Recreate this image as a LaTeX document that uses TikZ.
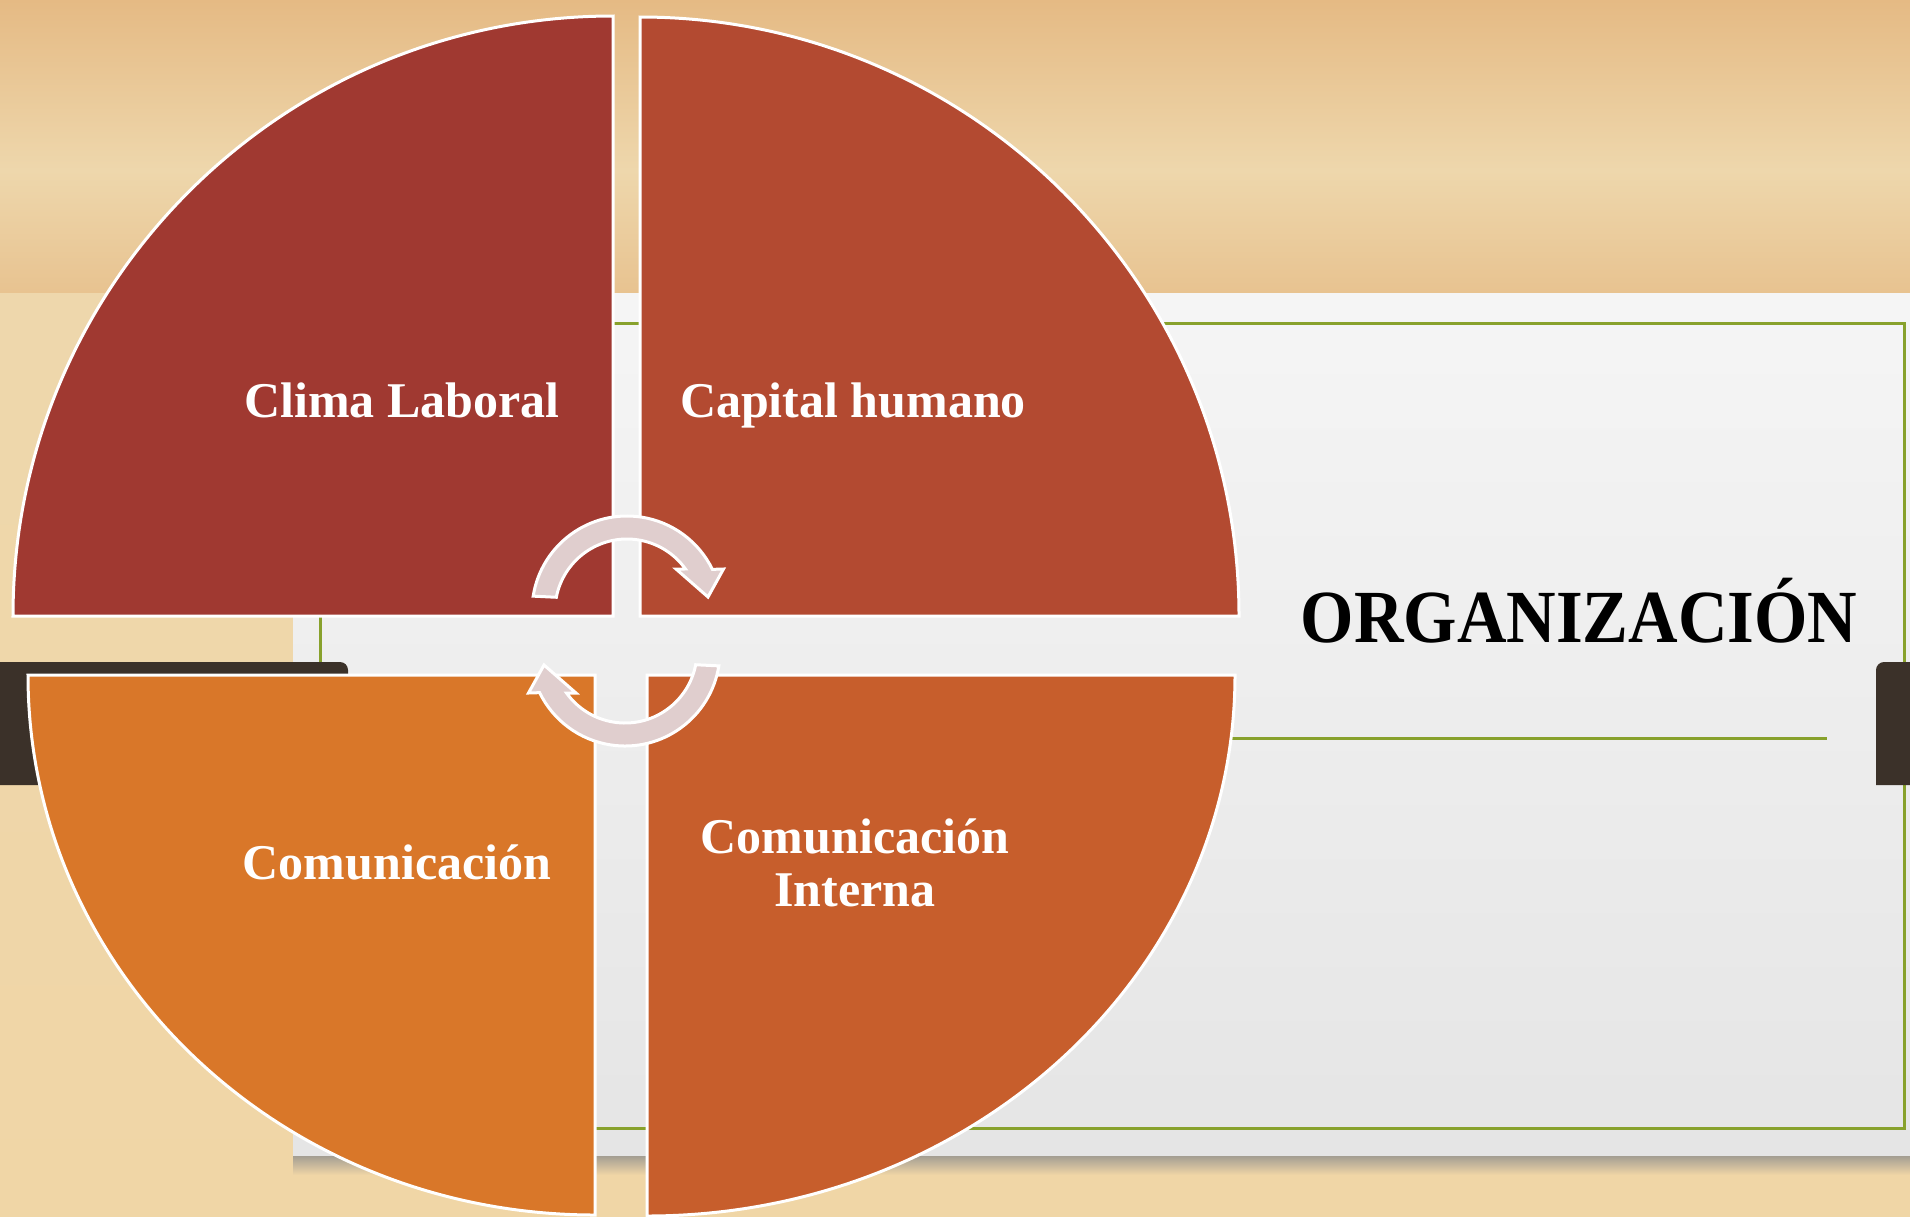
\documentclass[tikz,border=0pt]{standalone}
\usepackage{fontspec}
\setmainfont{Liberation Serif}
\definecolor{woodA}{HTML}{E5BA84}
\definecolor{woodB}{HTML}{EED7AC}
\definecolor{woodC}{HTML}{F0D6A6}
\definecolor{paperT}{HTML}{F5F5F5}
\definecolor{paperB}{HTML}{E5E5E5}
\definecolor{frameG}{HTML}{88A12C}
\definecolor{bandD}{HTML}{3B3129}
\definecolor{secTL}{HTML}{A03931}
\definecolor{secTR}{HTML}{B34A31}
\definecolor{secBL}{HTML}{D97729}
\definecolor{secBR}{HTML}{C75E2C}
\definecolor{arrowF}{HTML}{E0CECE}
\tikzset{
  sector/.style={draw=white, line width=3pt, line join=miter},
  greenline/.style={draw=frameG, line width=3pt},
  band/.style={fill=bandD},
  arrowst/.style={fill=arrowF, draw=white, line width=3pt, line join=miter},
  lbl/.style={text=white, font=\fontsize{50}{53}\selectfont\bfseries, inner sep=0pt, align=center},
  title/.style={text=black, font=\fontsize{75}{80}\selectfont\bfseries, inner sep=0pt, xscale=0.915},
  cycarrow/.pic={
    \filldraw[arrowst] (189:95) arc[start angle=189, end angle=334, radius=95]
      -- (96.5,-42) -- (81,-14) -- (49,-42) -- (324.3:72)
      arc[start angle=324.3, end angle=191, radius=72] -- cycle;
  }
}
\begin{document}
\begin{tikzpicture}[x=1pt,y=-1pt]
\useasboundingbox (0,0) rectangle (1910,1216);
\clip (0,0) rectangle (1910,1216);
% wood background
\fill[woodB] (0,0) rectangle (1910,1216);
\shade[top color=woodA, bottom color=woodB] (0,0) rectangle (1910,170);
\shade[top color=woodB, bottom color=woodA!70!woodB] (0,170) rectangle (1910,293);
\shade[top color=woodB, bottom color=woodC] (0,293) rectangle (1910,1216);
% paper shadow
\shade[top color=black!45, bottom color=woodC] (293,1150) rectangle (1910,1175);
% paper
\shade[top color=paperT, bottom color=paperB] (293,293) rectangle (1910,1155);
% green frame
\draw[greenline] (320,323) rectangle (1904,1128);
\draw[greenline] (1150,738) -- (1827,738);
% dark bands
\fill[band] (0,662) -- (340,662) arc[start angle=-90, end angle=0, radius=8] -- (348,785) -- (0,785) -- cycle;
\fill[band] (1910,662) -- (1884,662) arc[start angle=-90, end angle=-180, radius=8] -- (1876,785) -- (1910,785) -- cycle;
% sectors
\filldraw[sector, fill=secTL] (613,616) -- (13,616) arc[start angle=180, end angle=270, radius=600] -- cycle;
\filldraw[sector, fill=secTR] (640,616) -- (640,17) arc[start angle=270, end angle=360, radius=599] -- cycle;
\filldraw[sector, fill=secBL] (595,675) -- (28,675) arc[start angle=180, end angle=90, x radius=567, y radius=540] -- cycle;
\filldraw[sector, fill=secBR] (647,675) -- (1235,675) arc[start angle=0, end angle=90, x radius=588, y radius=541] -- cycle;
% cycle arrows
\pic (arrowtop) at (627,611) {cycarrow};
\pic[rotate=180] (arrowbot) at (625,651) {cycarrow};
% labels
\node[lbl, anchor=base] (clima) at (402,417) {Clima Laboral};
\node[lbl, anchor=base] (capital) at (853,417) {Capital humano};
\node[lbl, anchor=base] (comu) at (397,879) {Comunicación};
\node[lbl, anchor=base] (comint) at (855,906) {Comunicación\\Interna};
\node[title, anchor=base] (org) at (1579,642) {ORGANIZACIÓN};
\end{tikzpicture}
\end{document}
